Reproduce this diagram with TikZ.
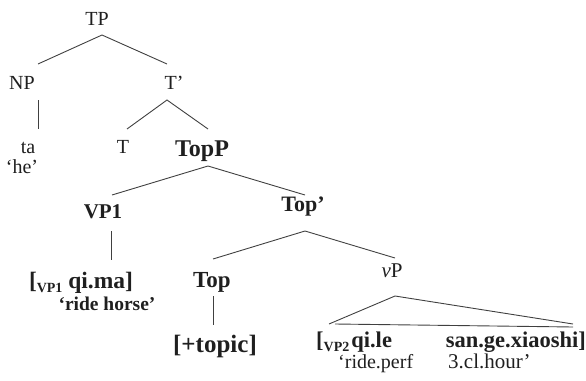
\documentclass[tikz,border=0pt]{standalone}
\usepackage{fontspec}
\setmainfont{Liberation Serif}
\tikzset{
  lab/.style={inner sep=0pt, text=black!88},
  nrm/.style={lab, font=\fontsize{20}{24}\selectfont},
  bld/.style={lab, font=\fontsize{22}{26}\selectfont\bfseries},
  br/.style={draw=black!75, line width=0.9pt},
}
\newcommand{\subsc}[1]{\raisebox{-4pt}{\fontsize{14}{14}\selectfont #1}}
\begin{document}
\begin{tikzpicture}[x=1pt,y=1pt]
\useasboundingbox (0,0) rectangle (586,-380);
% labels
\node[nrm, anchor=base] (TP) at (97,-25) {TP};
\node[nrm, anchor=base] (NP) at (22,-89) {NP};
\node[nrm, anchor=base] (T1) at (174,-89) {T’};
\node[nrm, anchor=base] (ta) at (28,-153) {ta};
\node[nrm, anchor=base] (he) at (22,-173) {‘he’};
\node[nrm, anchor=base] (T) at (123,-153) {T};
\node[bld, font=\fontsize{24}{28}\selectfont\bfseries, anchor=base] (TopP) at (202,-156) {TopP};
\node[bld, font=\fontsize{21}{25}\selectfont\bfseries, anchor=base] (VP1) at (103,-218) {VP1};
\node[bld, anchor=base] (Top1) at (303,-211) {Top’};
\node[bld, font=\fontsize{23.5}{27}\selectfont\bfseries, anchor=base] (VP1c) at (81,-288) {[\subsc{VP1} qi.ma]};
\node[bld, font=\fontsize{19.5}{24}\selectfont\bfseries, anchor=base] (rh) at (107,-310) {‘ride horse’};
\node[bld, font=\fontsize{23}{27}\selectfont\bfseries, anchor=base] (Top) at (212,-287) {Top};
\node[bld, font=\fontsize{25}{29}\selectfont\bfseries, anchor=base] (topic) at (215,-352) {[+topic]};
\node[nrm, font=\fontsize{21}{25}\selectfont, anchor=base] (vP) at (392,-277) {\textit{v}P};
\node[bld, font=\fontsize{22.5}{26}\selectfont\bfseries, anchor=base west] (VP2) at (316,-347) {[\subsc{VP2}\kern2pt qi.le};
\node[bld, font=\fontsize{22.5}{26}\selectfont\bfseries, anchor=base east] (sg) at (586,-347) {san.ge.xiaoshi]};
\node[nrm, anchor=base west] (g1) at (338,-368) {‘ride.perf};
\node[nrm, font=\fontsize{21}{25}\selectfont, anchor=base west] (g2) at (448,-368) {3.cl.hour’};
% branch points
\coordinate (TPb) at (102,-35);
\coordinate (NPt) at (38,-64);
\coordinate (T1t) at (167,-64);
\coordinate (NPb) at (38,-100);
\coordinate (tat) at (38,-129);
\coordinate (T1b) at (167,-100);
\coordinate (Tt) at (127,-129);
\coordinate (TopPt) at (208,-129);
\coordinate (TopPb) at (208,-166);
\coordinate (VP1t) at (112,-195);
\coordinate (Top1t) at (305,-195);
\coordinate (VP1b) at (111,-231);
\coordinate (VP1ct) at (111,-260);
\coordinate (Top1b) at (305,-231);
\coordinate (Topt) at (213,-259);
\coordinate (vPt) at (395,-258);
\coordinate (Topb) at (213,-296);
\coordinate (topict) at (213,-325);
\coordinate (vPb) at (395,-296);
\coordinate (tril) at (329,-324);
\coordinate (trir) at (573,-324);
\coordinate (tribl) at (335,-324);
\coordinate (tribr) at (573,-327);
% branches
\draw[br] (NPt) -- (TPb) -- (T1t);
\draw[br] (NPb) -- (tat);
\draw[br] (Tt) -- (T1b) -- (TopPt);
\draw[br] (VP1t) -- (TopPb) -- (Top1t);
\draw[br] (VP1b) -- (VP1ct);
\draw[br] (Topt) -- (Top1b) -- (vPt);
\draw[br] (Topb) -- (topict);
\draw[br] (tril) -- (vPb) -- (trir);
\draw[br] (tribl) -- (tribr);
\end{tikzpicture}
\end{document}
